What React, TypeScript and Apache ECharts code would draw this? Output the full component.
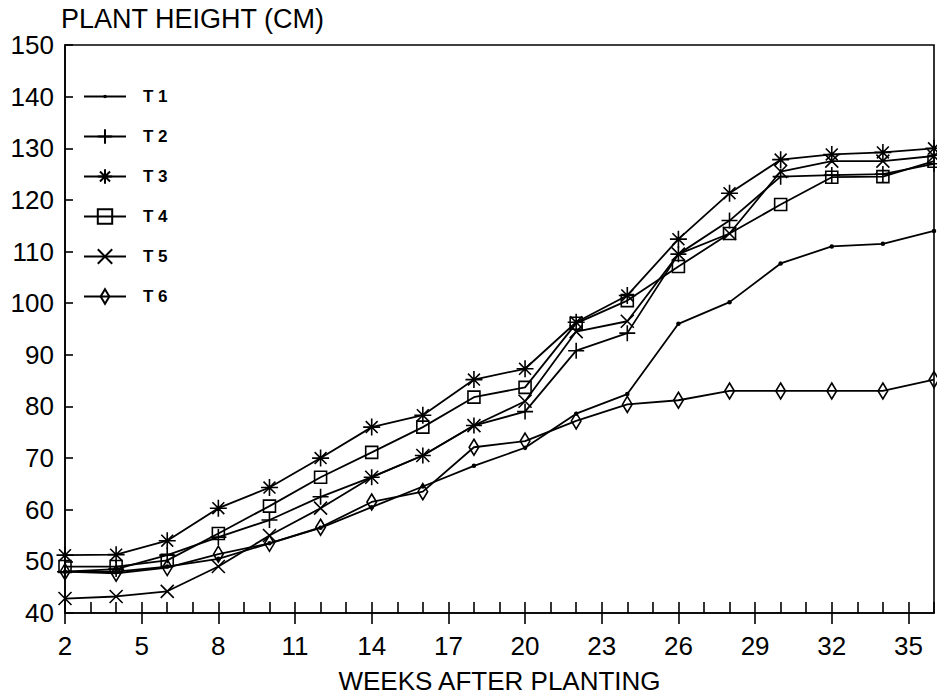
import React, { useEffect, useRef } from 'react';
import * as echarts from 'echarts';

const weeks = [2, 4, 6, 8, 10, 12, 14, 16, 18, 20, 22, 24, 26, 28, 30, 32, 34, 36];
const t1 = [48, 48, 49, 50.5, 53.5, 56.5, 60.5, 64.5, 68.5, 72, 78.6, 82.4, 96, 100.2, 107.7, 111, 111.5, 114];
const t2 = [48, 48.5, 51.2, 54.7, 58, 62.5, 66.3, 70.5, 76.3, 79, 90.8, 94.2, 109.5, 116, 124.5, 124.8, 125, 127];
const t3 = [51.2, 51.3, 54, 60.3, 64.3, 70, 76, 78.3, 85.2, 87.3, 96.3, 101.5, 112.4, 121.3, 127.8, 128.8, 129.2, 130];
const t4 = [49, 49, 50.2, 55.4, 60.7, 66.3, 71.1, 76, 81.8, 83.7, 96.1, 100.5, 107.1, 113.5, 119.1, 124.4, 124.5, 127.5];
const t5 = [42.8, 43.2, 44.2, 49, 55, 60.3, 66.3, 70.5, 76.3, 81, 94.5, 96.5, 109.5, 113.5, 125.5, 127.5, 127.5, 128.5];
const t6 = [48, 47.7, 48.8, 51.4, 53.5, 56.6, 61.5, 63.5, 72.1, 73.3, 77.2, 80.4, 81.2, 83, 83, 83, 83, 85.2];

const seriesNames = ['T 1', 'T 2', 'T 3', 'T 4', 'T 5', 'T 6'];
const seriesValues = [t1, t2, t3, t4, t5, t6];
const majorWeeks = [2, 5, 8, 11, 14, 17, 20, 23, 26, 29, 32, 35];
const yTicks = { min: 40, max: 150, interval: 10 };

const FONT = 'Liberation Sans, Arial, Helvetica, sans-serif';

const symbols = [
  'path://M-4,-4M4,4M1,0A1,1,0,1,1,-1,0A1,1,0,1,1,1,0Z',
  'path://M0,-1L0,1M-1,0L1,0',
  'path://M0,-1L0,1M-1,0L1,0M-0.7,-0.7L0.7,0.7M0.7,-0.7L-0.7,0.7',
  'path://M-1,-1L1,-1L1,1L-1,1Z',
  'path://M-1,-1L1,1M1,-1L-1,1',
  'path://M-1.2,0M1.2,0M0,-1.2L0.72,0L0,1.2L-0.72,0Z',
];
const symbolSizes = [18, 16, 17, 12, 13, 16];

export default function App() {
  const ref = useRef<HTMLDivElement>(null);
  useEffect(() => {
    document.body.style.margin = '0';
    if (!ref.current) return;
    const chart = echarts.init(ref.current, undefined, { renderer: 'svg' });
    const series = seriesNames.map((name, i) => ({
      name,
      type: 'line',
      data: weeks.map((w, j) => [w, seriesValues[i][j]]),
      symbol: symbols[i],
      symbolSize: symbolSizes[i],
      showAllSymbol: true,
      clip: false,
      lineStyle: { color: '#000', width: 1.8 },
      itemStyle:
        i === 0
          ? { color: '#000', borderWidth: 0 }
          : { color: 'rgba(0,0,0,0)', borderColor: '#000', borderWidth: 1.6 },
      emphasis: { disabled: true },
    }));
    chart.setOption({
      animation: false,
      backgroundColor: '#fff',
      title: {
        text: 'PLANT HEIGHT (CM)',
        left: 61,
        top: 5,
        padding: 0,
        textStyle: { fontFamily: FONT, fontSize: 27, fontWeight: 'normal', color: '#000' },
      },
      legend: {
        orient: 'vertical',
        left: 83,
        top: 88,
        itemWidth: 42,
        itemHeight: 18,
        itemGap: 23,
        padding: 0,
        selectedMode: false,
        data: seriesNames,
        textStyle: {
          fontFamily: FONT,
          fontSize: 17,
          fontWeight: 'bold',
          color: '#000',
          padding: [0, 0, 0, 12],
        },
      },
      grid: {
        left: 65,
        right: 3,
        top: 45,
        bottom: 86,
        show: true,
        borderColor: '#000',
        borderWidth: 1.6,
        containLabel: false,
      },
      xAxis: [
        {
          type: 'value',
          min: 2,
          max: 36,
          position: 'bottom',
          name: 'WEEKS AFTER PLANTING',
          nameLocation: 'middle',
          nameGap: 55,
          nameTextStyle: { fontFamily: FONT, fontSize: 26, color: '#000' },
          axisLine: { show: true, lineStyle: { color: '#000', width: 1.6 } },
          axisTick: {
            show: true,
            inside: false,
            length: 11,
            customValues: majorWeeks,
            lineStyle: { color: '#000', width: 1.6 },
          },
          axisLabel: {
            customValues: majorWeeks,
            fontFamily: FONT,
            fontSize: 26,
            color: '#000',
            margin: 20,
          },
          splitLine: { show: false },
        },
        {
          type: 'value',
          min: 2,
          max: 36,
          interval: 1,
          position: 'bottom',
          axisLine: { show: false },
          axisTick: { show: true, inside: true, length: 11, lineStyle: { color: '#000', width: 1.6 } },
          axisLabel: { show: false },
          splitLine: { show: false },
        },
      ],
      yAxis: {
        type: 'value',
        min: yTicks.min,
        max: yTicks.max,
        interval: yTicks.interval,
        axisLine: { show: true, lineStyle: { color: '#000', width: 1.6 } },
        axisTick: { show: true, inside: true, length: 8, lineStyle: { color: '#000', width: 1.6 } },
        axisLabel: { fontFamily: FONT, fontSize: 26, color: '#000', margin: 11 },
        splitLine: { show: false },
      },
      series,
    });
    return () => chart.dispose();
  }, []);
  return <div ref={ref} style={{ width: 937, height: 699 }} />;
}
